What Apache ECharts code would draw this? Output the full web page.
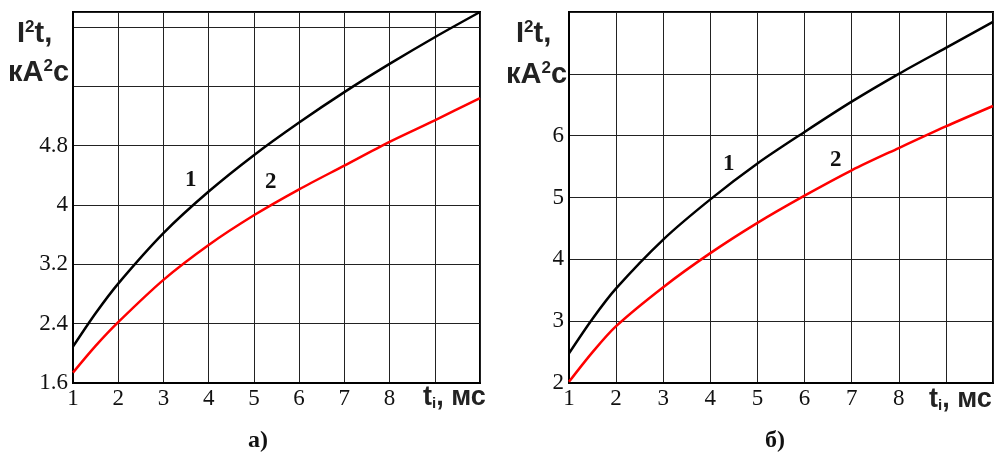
<!DOCTYPE html>
<html><head><meta charset="utf-8">
<script src="https://cdn.jsdelivr.net/npm/echarts@6/dist/echarts.min.js"></script>
<style>html,body{margin:0;padding:0;background:#fff}#c{width:1000px;height:453px}</style>
</head><body><div id="c"></div>
<script>
const ti = [1, 1.5, 2, 3, 4, 5, 6, 7, 8, 9, 10];
const aCurve1 = [2.09, 2.54, 2.94, 3.62, 4.18, 4.67, 5.11, 5.52, 5.90, 6.26, 6.60];
const aCurve2 = [1.74, 2.10, 2.42, 2.99, 3.46, 3.86, 4.21, 4.53, 4.85, 5.14, 5.44];
const bCurve1 = [2.48, 3.04, 3.53, 4.32, 4.97, 5.55, 6.06, 6.55, 7.00, 7.42, 7.84];
const bCurve2 = [2.02, 2.50, 2.92, 3.55, 4.10, 4.59, 5.03, 5.44, 5.80, 6.15, 6.48];
const xLabelMax = 8;
const aYLabelMax = 4.8;
const bYLabelMax = 6;

const serif = '"Liberation Serif", "DejaVu Serif", serif';
const sans = '"Liberation Sans", Arial, sans-serif';

function pairs(xs, ys) { return xs.map((x, i) => [x, ys[i]]); }

const chart = echarts.init(document.getElementById('c'));
const xAxisBase = {
  type: 'value', min: 1, max: 10, interval: 1,
  axisLine: { show: true, lineStyle: { color: '#000', width: 2 } },
  axisTick: { show: false },
  splitLine: { show: true, lineStyle: { color: '#222', width: 1 } },
  axisLabel: { color: '#111', fontFamily: serif, fontSize: 23, margin: 4,
    formatter: v => (v <= xLabelMax ? String(v) : '') }
};
function yAxis(gi, min, max, interval, labMax) {
  return {
    type: 'value', gridIndex: gi, min: min, max: max, interval: interval,
    axisLine: { show: true, lineStyle: { color: '#000', width: 2 } },
    axisTick: { show: false },
    splitLine: { show: true, lineStyle: { color: '#222', width: 1 } },
    axisLabel: { color: '#111', fontFamily: serif, fontSize: 23, margin: 5,
      formatter: v => (v <= labMax + 1e-6 ? String(+v.toFixed(1)) : '') }
  };
}
function line(xi, data, color) {
  return { type: 'line', xAxisIndex: xi, yAxisIndex: xi, data: data, smooth: 0.3,
    symbol: 'none', lineStyle: { color: color, width: 2.5 }, silent: true, animation: false };
}
function txt(x, y, text, font, size, weight) {
  return { type: 'text', left: x, top: y, style: { text: text, fill: '#111',
    font: (weight || 'bold') + ' ' + size + 'px ' + font } };
}
const supRich = {
  a: { fontFamily: sans, fontWeight: 'bold', fontSize: 29, fill: '#222', verticalAlign: 'top' },
  p: { fontFamily: sans, fontWeight: 'bold', fontSize: 17, fill: '#222', verticalAlign: 'top', padding: [0, 0, 10, 0] }
};
function yTitle(x, y, text) {
  return { type: 'text', left: x, top: y, style: { text: text, rich: supRich } };
}
function xTitle(x, y) {
  return { type: 'text', left: x, top: y, style: {
    text: '{a|t}{s|i}{a|, мс}',
    rich: {
      a: { fontFamily: sans, fontWeight: 'bold', fontSize: 27, fill: '#222', verticalAlign: 'bottom' },
      s: { fontFamily: sans, fontWeight: 'bold', fontSize: 15, fill: '#222', padding: [16, 0, 0, 0] }
    } } };
}

chart.setOption({
  animation: false,
  grid: [
    { left: 73, right: 520, top: 12, bottom: 70, show: true, borderColor: '#000', borderWidth: 2, backgroundColor: 'transparent' },
    { left: 569, right: 7, top: 12, bottom: 70, show: true, borderColor: '#000', borderWidth: 2, backgroundColor: 'transparent' }
  ],
  xAxis: [Object.assign({ gridIndex: 0 }, xAxisBase), Object.assign({ gridIndex: 1 }, xAxisBase)],
  yAxis: [yAxis(0, 1.6, 6.6, 0.8, aYLabelMax), yAxis(1, 2, 8, 1, bYLabelMax)],
  series: [
    line(0, pairs(ti, aCurve1), '#000'),
    line(0, pairs(ti, aCurve2), '#ff0000'),
    line(1, pairs(ti, bCurve1), '#000'),
    line(1, pairs(ti, bCurve2), '#ff0000')
  ],
  graphic: [
    yTitle(17, 19, '{a|I}{p|2}{a|t,}'),
    yTitle(8, 58, '{a|кА}{p|2}{a|с}'),
    yTitle(516, 19, '{a|I}{p|2}{a|t,}'),
    yTitle(506, 60, '{a|кА}{p|2}{a|с}'),
    txt(185, 169, '1', serif, 23),
    txt(265, 171, '2', serif, 23),
    txt(723, 153, '1', serif, 23),
    txt(830, 149, '2', serif, 23),
    txt(248, 429, 'а)', serif, 24),
    txt(765, 429, 'б)', serif, 24),
    xTitle(423, 384),
    xTitle(929, 386)
  ]
});
</script></body></html>
